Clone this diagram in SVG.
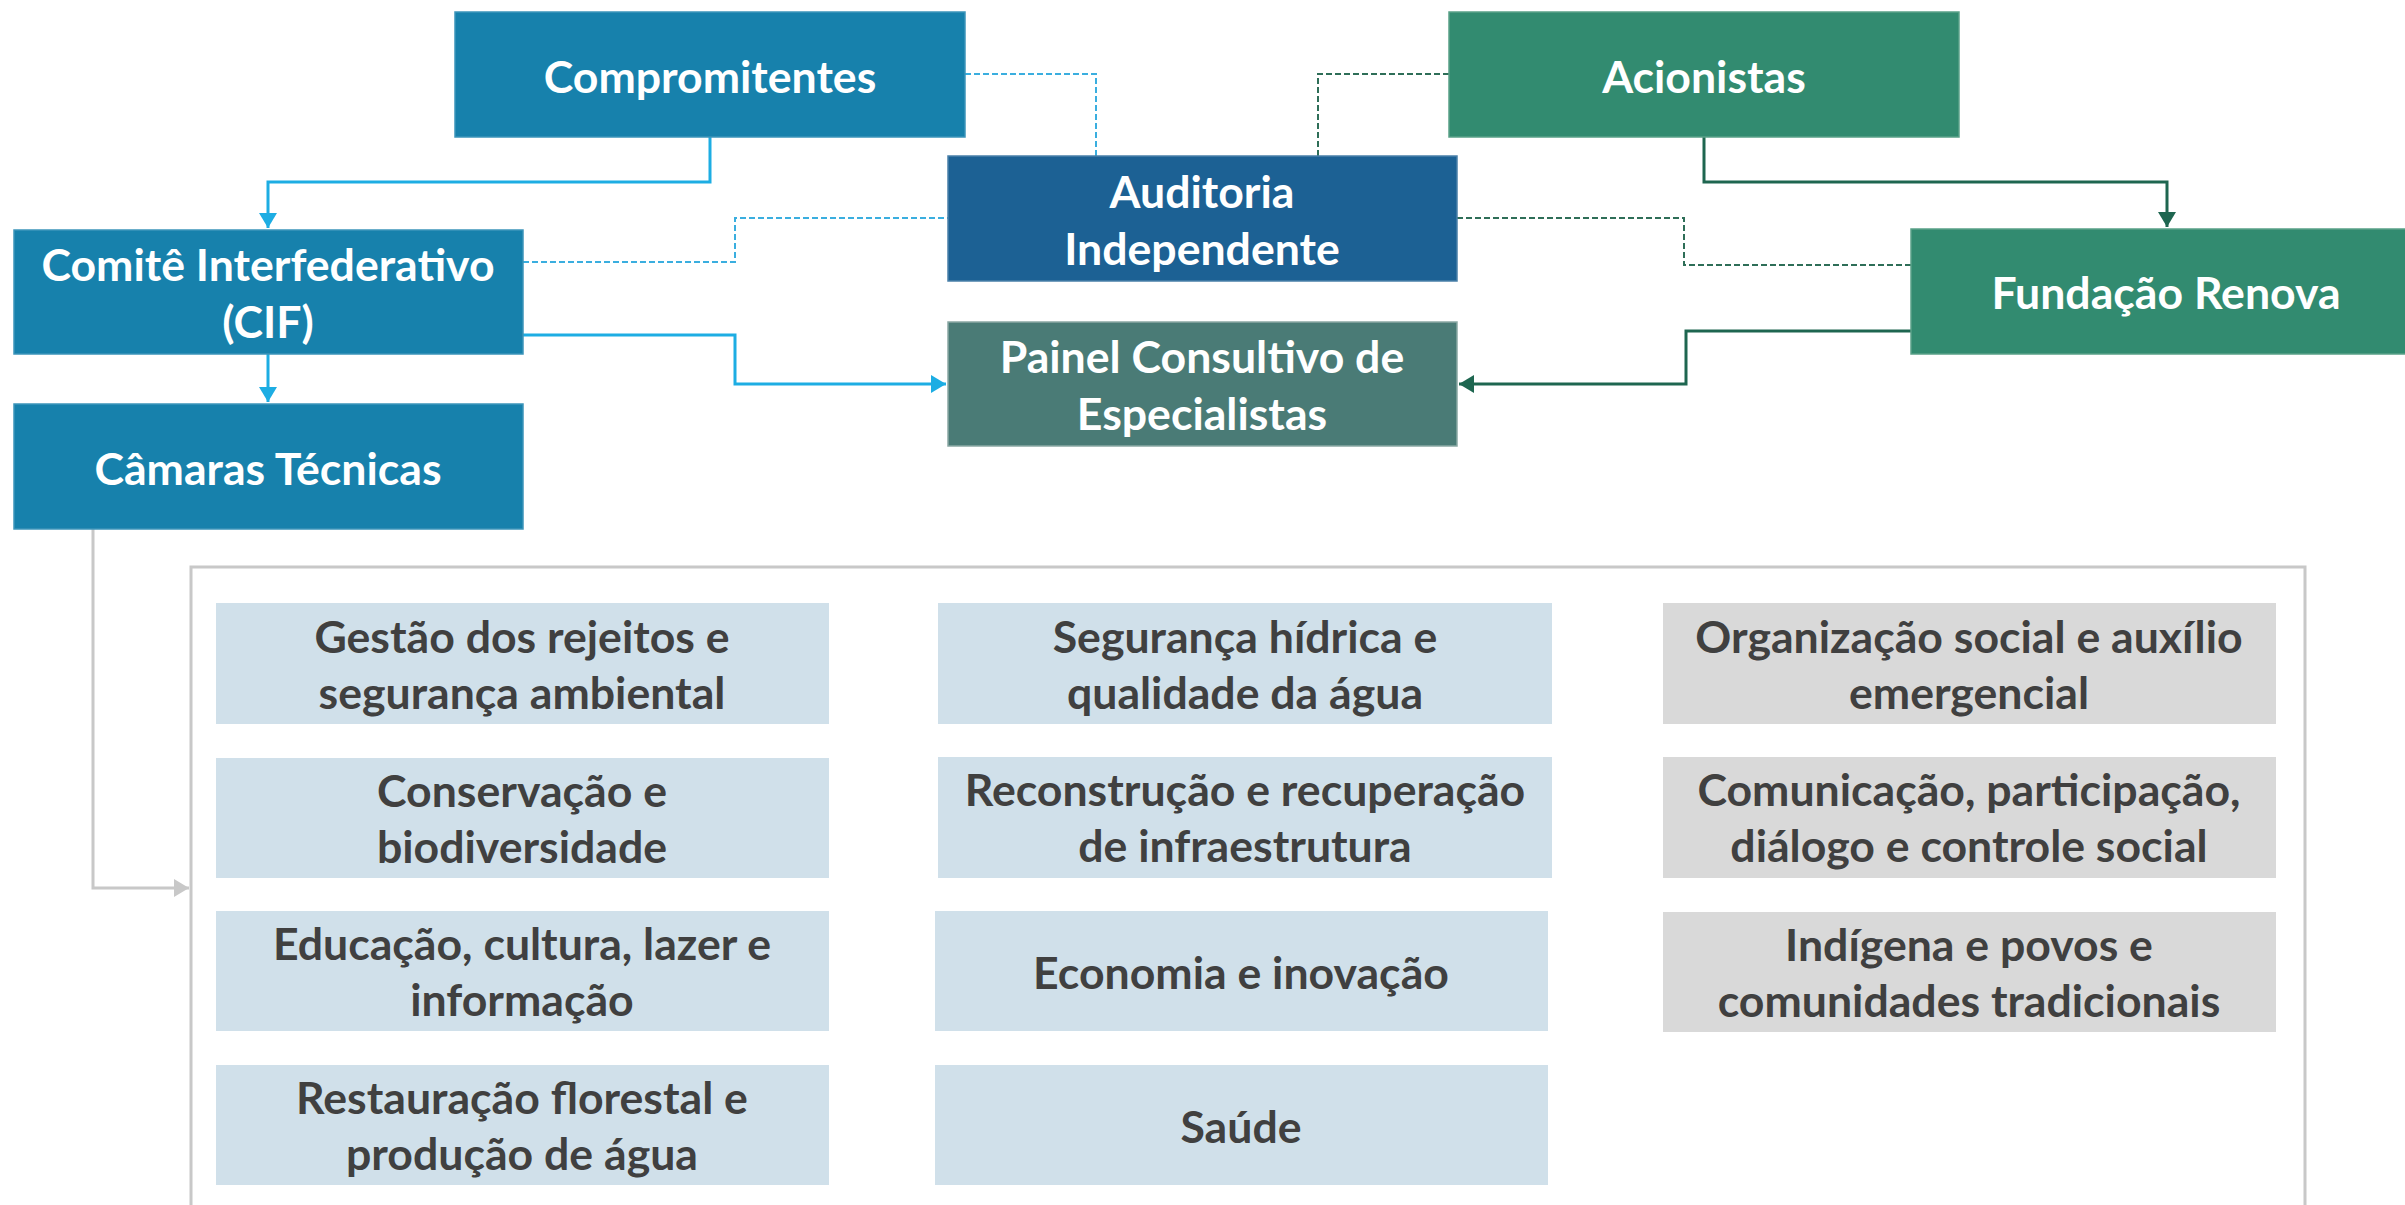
<svg xmlns="http://www.w3.org/2000/svg" width="2405" height="1205" viewBox="0 0 2405 1205">
<style>
.n{stroke-width:1.5}
.blue{fill:#1781AC;stroke:#3D95BA}
.aud{fill:#1C6194;stroke:#4A80A9}
.pan{fill:#4A7B76;stroke:#8AA8A4}
.grn{fill:#328B70;stroke:#5AA188}
.lb{fill:#D0E0EA}
.gr{fill:#D9D9D9}
.t{font-family:"Lato","Liberation Sans",sans-serif;font-weight:bold;font-size:44.6px;text-anchor:middle}
.w{fill:#FFFFFF}
.d{fill:#404040}
.cb{fill:none;stroke:#1DADE3;stroke-width:3}
.cg{fill:none;stroke:#1E6650;stroke-width:3}
.db{fill:none;stroke:#3AAEDF;stroke-width:2;stroke-dasharray:6 3}
.dg{fill:none;stroke:#2E6E58;stroke-width:2;stroke-dasharray:6 3}
.cy{fill:none;stroke:#C8C8C8;stroke-width:3}
</style>
<defs>
<marker id="ab" markerUnits="userSpaceOnUse" markerWidth="16" markerHeight="18" refX="15" refY="9" orient="auto"><path d="M0,0 L15,9 L0,18 Z" fill="#1DADE3"/></marker>
<marker id="ag" markerUnits="userSpaceOnUse" markerWidth="16" markerHeight="18" refX="15" refY="9" orient="auto"><path d="M0,0 L15,9 L0,18 Z" fill="#1E6650"/></marker>
<marker id="ay" markerUnits="userSpaceOnUse" markerWidth="16" markerHeight="18" refX="15" refY="9" orient="auto"><path d="M0,0 L15,9 L0,18 Z" fill="#C8C8C8"/></marker>
</defs>
<rect width="2405" height="1205" fill="#FFFFFF"/>

<g id="panel">
<path d="M191,1205 V567 H2305 V1205" fill="none" stroke="#C8C8C8" stroke-width="3"/>
</g>

<g id="connectors">
<path class="cb" d="M710,137 V182 H268 V228" marker-end="url(#ab)"/>
<path class="cb" d="M268,354 V402" marker-end="url(#ab)"/>
<path class="cb" d="M523,335 H735 V384 H946" marker-end="url(#ab)"/>
<path class="db" d="M965,74 H1096 V156"/>
<path class="db" d="M523,262 H735 V218 H948"/>
<path class="dg" d="M1449,74 H1318 V196"/>
<path class="dg" d="M1457,218 H1684 V265 H1911"/>
<path class="cg" d="M1704,137 V182 H2167 V227" marker-end="url(#ag)"/>
<path class="cg" d="M1911,331 H1686 V384 H1459" marker-end="url(#ag)"/>
<path class="cy" d="M93,528 V888 H189" marker-end="url(#ay)"/>
</g>

<g id="compromitentes"><rect class="n blue" x="455" y="12" width="510" height="125"/><text class="t w" x="710" y="93">Compromitentes</text></g>
<g id="acionistas"><rect class="n grn" x="1449" y="12" width="510" height="125"/><text class="t w" x="1704" y="93">Acionistas</text></g>
<g id="auditoria"><rect class="n aud" x="948" y="156" width="509" height="125"/><text class="t w" x="1202" y="208">Auditoria</text><text class="t w" x="1202" y="265">Independente</text></g>
<g id="cif"><rect class="n blue" x="14" y="230" width="509" height="124"/><text class="t w" x="268" y="281">Comitê Interfederativo</text><text class="t w" x="268" y="338">(CIF)</text></g>
<g id="fundacao"><rect class="n grn" x="1911" y="229" width="500" height="125"/><text class="t w" x="2166" y="309">Fundação Renova</text></g>
<g id="painel"><rect class="n pan" x="948" y="322" width="509" height="124"/><text class="t w" x="1202" y="373">Painel Consultivo de</text><text class="t w" x="1202" y="430">Especialistas</text></g>
<g id="camaras"><rect class="n blue" x="14" y="404" width="509" height="125"/><text class="t w" x="268" y="485">Câmaras Técnicas</text></g>

<g id="c1r1"><rect class="lb" x="216" y="603" width="613" height="121"/><text class="t d" x="522" y="653">Gestão dos rejeitos e</text><text class="t d" x="522" y="709">segurança ambiental</text></g>
<g id="c1r2"><rect class="lb" x="216" y="758" width="613" height="120"/><text class="t d" x="522" y="807">Conservação e</text><text class="t d" x="522" y="863">biodiversidade</text></g>
<g id="c1r3"><rect class="lb" x="216" y="911" width="613" height="120"/><text class="t d" x="522" y="960">Educação, cultura, lazer e</text><text class="t d" x="522" y="1016">informação</text></g>
<g id="c1r4"><rect class="lb" x="216" y="1065" width="613" height="120"/><text class="t d" x="522" y="1114">Restauração florestal e</text><text class="t d" x="522" y="1170">produção de água</text></g>

<g id="c2r1"><rect class="lb" x="938" y="603" width="614" height="121"/><text class="t d" x="1245" y="653">Segurança hídrica e</text><text class="t d" x="1245" y="709">qualidade da água</text></g>
<g id="c2r2"><rect class="lb" x="938" y="757" width="614" height="121"/><text class="t d" x="1245" y="806">Reconstrução e recuperação</text><text class="t d" x="1245" y="862">de infraestrutura</text></g>
<g id="c2r3"><rect class="lb" x="935" y="911" width="613" height="120"/><text class="t d" x="1241" y="989">Economia e inovação</text></g>
<g id="c2r4"><rect class="lb" x="935" y="1065" width="613" height="120"/><text class="t d" x="1241" y="1143">Saúde</text></g>

<g id="c3r1"><rect class="gr" x="1663" y="603" width="613" height="121"/><text class="t d" x="1969" y="653">Organização social e auxílio</text><text class="t d" x="1969" y="709">emergencial</text></g>
<g id="c3r2"><rect class="gr" x="1663" y="757" width="613" height="121"/><text class="t d" x="1969" y="806">Comunicação, participação,</text><text class="t d" x="1969" y="862">diálogo e controle social</text></g>
<g id="c3r3"><rect class="gr" x="1663" y="912" width="613" height="120"/><text class="t d" x="1969" y="961">Indígena e povos e</text><text class="t d" x="1969" y="1017">comunidades tradicionais</text></g>
</svg>
